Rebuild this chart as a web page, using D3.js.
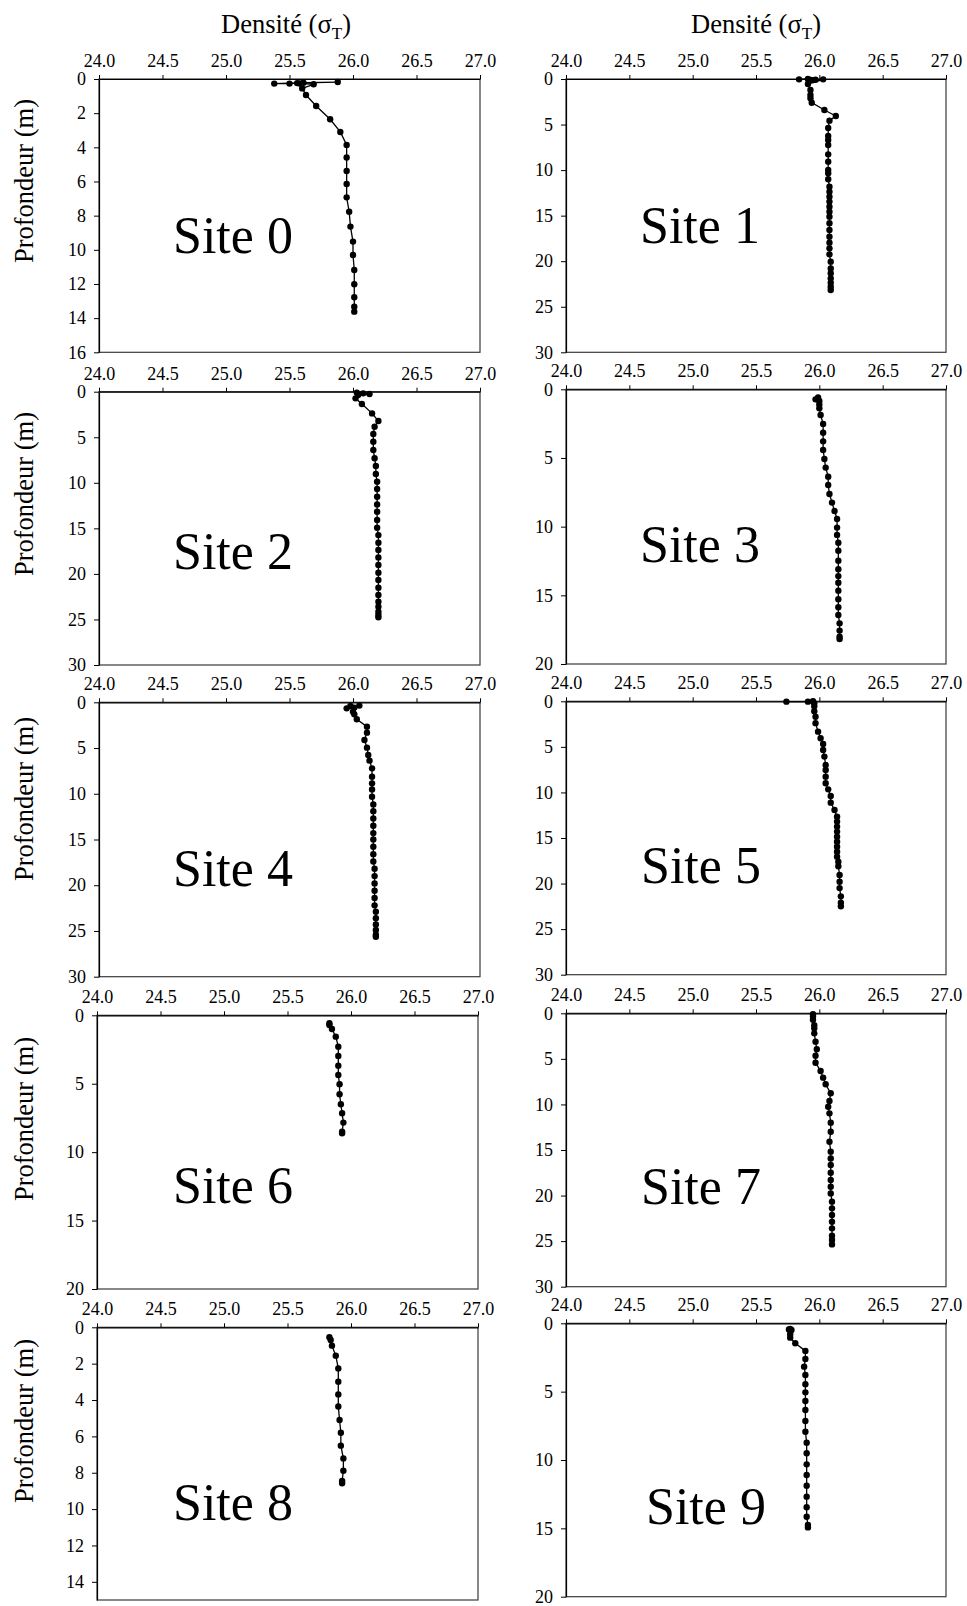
<!DOCTYPE html>
<html>
<head>
<meta charset="utf-8">
<script src="https://cdn.jsdelivr.net/npm/d3@7"></script>
<style>
  html, body { margin: 0; padding: 0; background: #fff; }
  svg { display: block; }
  text { font-family: "Liberation Serif", "Times New Roman", serif; fill: #000; }
</style>
</head>
<body>
<svg id="chart" width="967" height="1606"></svg>
<script>
// ---------------- DATA ----------------
const densityTicks = [24.0, 24.5, 25.0, 25.5, 26.0, 26.5, 27.0];
const densityDomain = [24, 27];
const xTitle = "Densité (σ";
const xTitleSub = "T";
const yTitle = "Profondeur (m)";
const siteNames = ["Site 0", "Site 1", "Site 2", "Site 3", "Site 4", "Site 5", "Site 6", "Site 7", "Site 8", "Site 9"];
const depthMax = [16, 30, 30, 20, 30, 30, 20, 30, 15, 20];
const depthTicks = [
  [0, 2, 4, 6, 8, 10, 12, 14, 16],
  [0, 5, 10, 15, 20, 25, 30],
  [0, 5, 10, 15, 20, 25, 30],
  [0, 5, 10, 15, 20],
  [0, 5, 10, 15, 20, 25, 30],
  [0, 5, 10, 15, 20, 25, 30],
  [0, 5, 10, 15, 20],
  [0, 5, 10, 15, 20, 25, 30],
  [0, 2, 4, 6, 8, 10, 12, 14],
  [0, 5, 10, 15, 20]
];

const site0Depth = [0.18, 0.22, 0.27, 0.27, 0.24, 0.26, 0.31, 0.55, 0.94, 1.58, 2.36, 3.10, 3.86, 4.60, 5.39, 6.15, 6.93, 7.77, 8.64, 9.52, 10.30, 11.18, 12.02, 12.78, 13.33, 13.62];
const site0Dens  = [25.88, 25.61, 25.38, 25.50, 25.56, 25.58, 25.69, 25.60, 25.63, 25.71, 25.82, 25.90, 25.95, 25.95, 25.95, 25.95, 25.95, 25.97, 25.98, 26.00, 26.00, 26.01, 26.01, 26.01, 26.01, 26.01];

const site1Depth = [0.04, 0.00, 0.10, 0.12, 0.08, 0.04, 0.55, 1.20, 1.76, 2.10, 2.60, 3.40, 4.06, 4.57, 5.38, 6.26, 6.70, 7.24, 8.27, 9.07, 9.99, 10.35, 11.01, 11.82, 12.37, 12.92, 13.46, 14.01, 14.56, 15.11, 15.84, 16.57, 17.31, 17.97, 18.59, 19.25, 20.05, 20.79, 21.33, 21.88, 22.36, 22.80, 23.16];
const site1Dens  = [25.84, 25.91, 25.93, 25.95, 25.97, 26.03, 25.91, 25.93, 25.93, 25.93, 25.94, 26.04, 26.13, 26.08, 26.07, 26.07, 26.07, 26.07, 26.07, 26.07, 26.07, 26.07, 26.07, 26.08, 26.08, 26.08, 26.08, 26.08, 26.08, 26.08, 26.08, 26.08, 26.08, 26.08, 26.08, 26.08, 26.09, 26.09, 26.09, 26.09, 26.09, 26.09, 26.09];

const site2Depth = [0.10, 0.18, 0.26, 0.37, 0.73, 1.35, 2.38, 3.22, 3.84, 4.65, 5.50, 6.40, 7.30, 8.16, 9.04, 9.88, 10.68, 11.53, 12.37, 13.17, 14.09, 14.93, 15.74, 16.58, 17.38, 18.19, 19.03, 19.87, 20.67, 21.52, 22.32, 23.05, 23.60, 24.15, 24.51, 24.77];
const site2Dens  = [26.03, 26.08, 26.13, 26.04, 26.02, 26.07, 26.15, 26.20, 26.17, 26.16, 26.16, 26.16, 26.17, 26.18, 26.18, 26.19, 26.19, 26.19, 26.19, 26.19, 26.19, 26.19, 26.20, 26.20, 26.20, 26.20, 26.20, 26.20, 26.20, 26.20, 26.20, 26.20, 26.20, 26.20, 26.20, 26.20];

const site3Depth = [0.73, 0.60, 0.85, 1.10, 1.38, 1.87, 2.52, 3.16, 3.79, 4.42, 5.07, 5.70, 6.36, 6.97, 7.62, 8.25, 8.86, 9.44, 10.07, 10.60, 11.17, 11.75, 12.48, 13.10, 13.60, 14.08, 14.66, 15.29, 15.87, 16.43, 17.04, 17.57, 18.01, 18.18];
const site3Dens  = [25.97, 25.99, 26.00, 26.00, 26.00, 26.01, 26.03, 26.03, 26.03, 26.03, 26.04, 26.05, 26.07, 26.07, 26.08, 26.10, 26.12, 26.14, 26.14, 26.14, 26.15, 26.15, 26.15, 26.15, 26.15, 26.15, 26.15, 26.15, 26.15, 26.15, 26.16, 26.16, 26.16, 26.16];

const site4Depth = [0.66, 0.40, 0.58, 0.36, 1.02, 1.31, 1.86, 2.66, 3.32, 4.12, 4.96, 5.76, 6.38, 7.22, 8.13, 8.86, 9.52, 10.32, 11.16, 11.90, 12.70, 13.50, 14.30, 15.00, 15.80, 16.60, 17.40, 18.20, 19.00, 19.80, 20.60, 21.40, 22.20, 22.90, 23.60, 24.30, 24.90, 25.40, 25.63];
const site4Dens  = [25.95, 25.98, 26.01, 26.05, 26.00, 26.01, 26.03, 26.11, 26.11, 26.09, 26.11, 26.12, 26.13, 26.15, 26.15, 26.15, 26.15, 26.15, 26.16, 26.16, 26.16, 26.16, 26.16, 26.16, 26.16, 26.16, 26.16, 26.17, 26.17, 26.17, 26.17, 26.17, 26.17, 26.18, 26.18, 26.18, 26.18, 26.18, 26.18];

const site5Depth = [0.04, 0.04, 0.00, 0.22, 0.55, 1.10, 1.70, 2.40, 3.33, 4.06, 4.68, 5.34, 6.07, 6.99, 7.54, 8.27, 9.00, 9.66, 10.39, 11.12, 11.93, 12.66, 13.20, 13.75, 14.30, 14.85, 15.40, 15.95, 16.50, 17.05, 17.60, 18.10, 19.06, 19.80, 20.50, 21.40, 22.10, 22.50];
const site5Dens  = [25.74, 25.91, 25.95, 25.96, 25.96, 25.96, 25.97, 25.97, 25.99, 26.01, 26.03, 26.03, 26.04, 26.05, 26.05, 26.05, 26.05, 26.07, 26.09, 26.09, 26.12, 26.14, 26.14, 26.14, 26.14, 26.14, 26.14, 26.14, 26.14, 26.14, 26.15, 26.15, 26.16, 26.16, 26.16, 26.17, 26.17, 26.17];

const site6Depth = [0.58, 0.71, 1.00, 1.56, 2.29, 2.97, 3.68, 4.36, 5.04, 5.77, 6.50, 7.16, 7.84, 8.50, 8.62];
const site6Dens  = [25.83, 25.83, 25.85, 25.88, 25.90, 25.90, 25.90, 25.90, 25.91, 25.91, 25.92, 25.93, 25.94, 25.93, 25.93];

const site7Depth = [0.10, 0.35, 0.70, 1.30, 1.65, 2.20, 3.11, 3.95, 4.65, 5.42, 6.33, 7.06, 7.79, 8.78, 9.62, 10.25, 10.98, 12.00, 12.99, 14.09, 15.18, 15.92, 16.65, 17.49, 18.30, 19.03, 19.76, 20.67, 21.40, 22.13, 22.87, 23.60, 24.40, 24.88, 25.36];
const site7Dens  = [25.95, 25.95, 25.95, 25.96, 25.96, 25.96, 25.97, 25.98, 25.97, 25.97, 26.01, 26.03, 26.05, 26.09, 26.08, 26.07, 26.08, 26.09, 26.09, 26.08, 26.09, 26.09, 26.09, 26.09, 26.09, 26.09, 26.09, 26.10, 26.10, 26.10, 26.10, 26.10, 26.10, 26.10, 26.10];

const site8Depth = [0.55, 0.70, 1.01, 1.56, 2.26, 2.99, 3.69, 4.36, 5.10, 5.80, 6.51, 7.21, 7.89, 8.45, 8.58];
const site8Dens  = [25.83, 25.84, 25.85, 25.88, 25.90, 25.90, 25.90, 25.90, 25.91, 25.92, 25.92, 25.94, 25.94, 25.93, 25.93];

const site9Depth = [0.41, 0.49, 0.45, 0.80, 1.05, 1.46, 2.02, 2.61, 3.17, 3.78, 4.46, 5.05, 5.68, 6.34, 7.15, 7.93, 8.73, 9.51, 10.32, 11.10, 11.88, 12.68, 13.46, 14.15, 14.76, 14.93];
const site9Dens  = [25.77, 25.78, 25.76, 25.77, 25.77, 25.81, 25.89, 25.89, 25.88, 25.89, 25.89, 25.89, 25.89, 25.89, 25.89, 25.89, 25.90, 25.90, 25.90, 25.90, 25.90, 25.90, 25.90, 25.90, 25.91, 25.91];

const siteDepths = [site0Depth, site1Depth, site2Depth, site3Depth, site4Depth, site5Depth, site6Depth, site7Depth, site8Depth, site9Depth];
const siteDens = [site0Dens, site1Dens, site2Dens, site3Dens, site4Dens, site5Dens, site6Dens, site7Dens, site8Dens, site9Dens];

// ---------------- LAYOUT ----------------
// panel frames [left, right, top, bottom]
const frames = [
  [99, 480, 79, 352.3],   [566, 946, 79, 352.3],
  [99, 480, 391.7, 665],  [566, 946, 389.3, 664],
  [99, 480, 702.3, 976.7],[566, 946, 701.3, 974.7],
  [97, 478, 1015.3, 1289],[566, 946, 1013.3, 1286.7],
  [97, 478, 1327.3, 1600],[566, 946, 1323.3, 1596.7]
];
// site label anchor (left x, baseline y)
const labelPos = [[173, 252.7], [640, 242.7], [173, 569], [640, 562], [173, 886], [641, 883], [173, 1203], [641, 1204], [173, 1520], [646, 1524]];
const yTitleCenters = [181, 494, 799, 1119, 1421];

const svg = d3.select("#chart");
const fontTick = 18;

// Column headers
[[286, 33], [756, 33]].forEach(([cx, by]) => {
  const t = svg.append("text")
    .attr("x", cx).attr("y", by)
    .attr("text-anchor", "middle")
    .style("font-size", "26.5px");
  t.append("tspan").text(xTitle);
  t.append("tspan").attr("dy", 6).style("font-size", "17px").text(xTitleSub);
  t.append("tspan").attr("dy", -6).text(")");
});

// Y titles
yTitleCenters.forEach(cy => {
  svg.append("text")
    .attr("transform", `translate(33,${cy}) rotate(-90)`)
    .attr("text-anchor", "middle")
    .style("font-size", "26.5px")
    .text(yTitle);
});

siteNames.forEach((name, i) => {
  const [l, r, t, b] = frames[i];
  const x = d3.scaleLinear().domain(densityDomain).range([l, r]);
  const y = d3.scaleLinear().domain([0, depthMax[i]]).range([t, b]);
  const g = svg.append("g");

  // frame
  g.append("rect")
    .attr("x", l).attr("y", t)
    .attr("width", r - l).attr("height", b - t)
    .attr("fill", "none").attr("stroke", "#3a3a3a").attr("stroke-width", 1.2);

  // top axis
  const ax = g.append("g")
    .attr("transform", `translate(0,${t})`)
    .call(d3.axisTop(x).tickValues(densityTicks).tickFormat(d3.format(".1f"))
      .tickSizeInner(4).tickSizeOuter(0).tickPadding(8));
  // left axis
  const ay = g.append("g")
    .attr("transform", `translate(${l},0)`)
    .call(d3.axisLeft(y).tickValues(depthTicks[i]).tickFormat(d3.format("d"))
      .tickSizeInner(5).tickSizeOuter(0).tickPadding(8));

  [ax, ay].forEach(a => {
    a.selectAll("text").style("font-family", '"Liberation Serif", "Times New Roman", serif')
      .style("font-size", fontTick + "px").attr("fill", "#000");
    a.selectAll("line").attr("stroke", "#000");
    a.select(".domain").attr("stroke", "#000").attr("stroke-width", 1.2);
  });

  const pts = siteDepths[i].map((d, k) => ({ depth: d, dens: siteDens[i][k] }));
  const line = d3.line().x(d => x(d.dens)).y(d => y(d.depth));
  g.append("path")
    .attr("d", line(pts))
    .attr("fill", "none").attr("stroke", "#000").attr("stroke-width", 1.3);
  g.selectAll("circle.pt").data(pts).enter().append("circle")
    .attr("class", "pt")
    .attr("cx", d => x(d.dens)).attr("cy", d => y(d.depth))
    .attr("r", 3.2).attr("fill", "#000");

  g.append("text")
    .attr("x", labelPos[i][0]).attr("y", labelPos[i][1])
    .style("font-size", "52px")
    .text(name);
});
</script>
</body>
</html>
